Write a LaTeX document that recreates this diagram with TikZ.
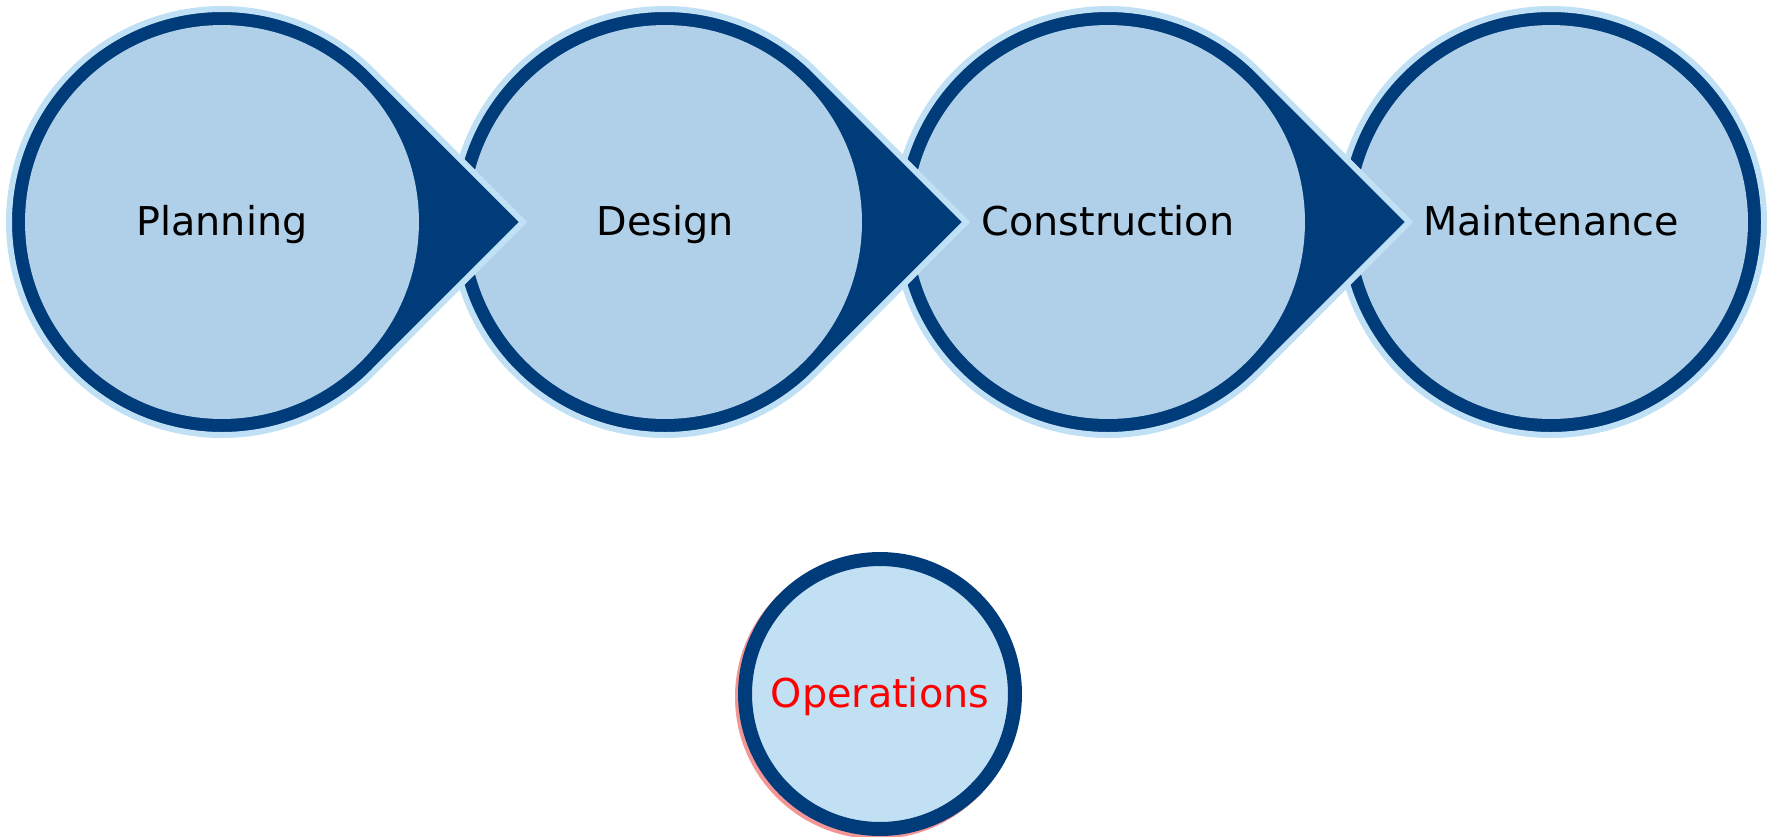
\documentclass[tikz,border=0pt]{standalone}
\usepackage{fontspec}
\setmainfont{DejaVu Sans}
\usepackage{tikz}
\usetikzlibrary{positioning}
\usetikzlibrary{calc}

\definecolor{stagedark}{RGB}{0,59,122}
\definecolor{stagelight}{RGB}{175,208,232}
\definecolor{stageedge}{RGB}{192,225,245}
\definecolor{opfill}{RGB}{194,224,243}
\definecolor{opshadow}{RGB}{242,150,150}

\tikzset{
	drop/.style={fill=stagedark, draw=stageedge, line width=0.12cm, line join=miter},
	stagefill/.style={circle, fill=stagelight, inner sep=0pt, minimum size=7.88cm,
		text height=17pt, text depth=2pt,
		font=\fontsize{22.6pt}{27pt}\selectfont},
	opcircle/.style={circle, fill=opfill, draw=stagedark, line width=0.28cm,
		inner sep=0pt, minimum size=5.4cm, text=red,
		text height=17pt, text depth=2pt,
		font=\fontsize{22.6pt}{27pt}\selectfont},
}

\begin{document}
\begin{tikzpicture}[x=0.02cm, y=-0.02cm]

	\useasboundingbox (0,0) rectangle (1774,836);

	% centres of the stages, left to right
	\coordinate (P) at (222,222);
	\coordinate (D) at (665,222);
	\coordinate (C) at (1108,222);
	\coordinate (M) at (1551,222);
	\coordinate (O) at (880,694);

	% drawn right to left, so that each tip lies over the next ring
	% last stage: a plain ring, no tip
	\draw[drop] (M) circle[radius=213];
	\node[stagefill] (maintenance) at (M) {Maintenance};

	\draw[drop] (C) ++(-45:213) arc[start angle=-45, end angle=-315, radius=213]
		-- ($(C)+(301,0)$) -- cycle;
	\node[stagefill] (construction) at (C) {Construction};

	\draw[drop] (D) ++(-45:213) arc[start angle=-45, end angle=-315, radius=213]
		-- ($(D)+(301,0)$) -- cycle;
	\node[stagefill] (design) at (D) {Design};

	\draw[drop] (P) ++(-45:213) arc[start angle=-45, end angle=-315, radius=213]
		-- ($(P)+(301,0)$) -- cycle;
	\node[stagefill] (planning) at (P) {Planning};

	% the loose circle below, with its shadow
	\fill[opshadow] ($(O)+(-3,3)$) circle[radius=142];
	\node[opcircle] (operations) at (O) {Operations};

\end{tikzpicture}
\end{document}
